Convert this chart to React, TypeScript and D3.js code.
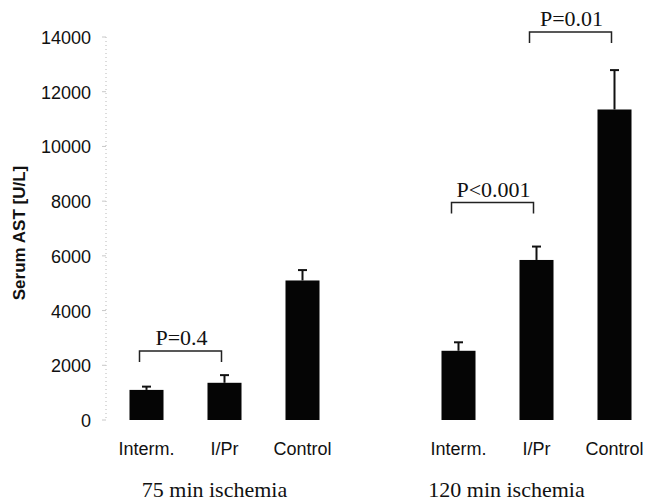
import React, { useRef, useEffect } from "react";
import * as d3 from "d3";

const groups = ["75 min ischemia", "120 min ischemia"];
const conditions = ["Interm.", "I/Pr", "Control"];
// mean values per group, in condition order
const means75 = [1100, 1360, 5100];
const means120 = [2530, 5850, 11350];
const errors75 = [120, 280, 380];
const errors120 = [310, 490, 1440];
const yTicks = [0, 2000, 4000, 6000, 8000, 10000, 12000, 14000];

// significance brackets: group index, from/to condition, level, label
const brackets = [
  { group: 0, from: 0, to: 1, level: 2520, label: "P=0.4" },
  { group: 1, from: 0, to: 1, level: 7950, label: "P<0.001" },
  { group: 1, from: 1, to: 2, level: 14180, label: "P=0.01" },
];

const WIDTH = 648;
const HEIGHT = 502;
const SANS = "'Liberation Sans', Arial, sans-serif";
const SERIF = "'Liberation Serif', 'Times New Roman', serif";

export default function App() {
  const svgRef = useRef<SVGSVGElement>(null);

  useEffect(() => {
    const svg = d3.select(svgRef.current);
    svg.selectAll("*").remove();

    const y = d3.scaleLinear().domain([0, 14000]).range([420, 37]);

    const xGroup = d3
      .scaleBand()
      .domain(groups)
      .range([107.5, 653.5])
      .paddingInner(0.25)
      .paddingOuter(0);

    const xCond = d3
      .scaleBand()
      .domain(conditions)
      .range([0, xGroup.bandwidth()])
      .paddingInner(0.564)
      .paddingOuter(0.282);

    const data = groups.flatMap((g, gi) =>
      conditions.map((c, ci) => ({
        group: g,
        cond: c,
        mean: gi === 0 ? means75[ci] : means120[ci],
        err: gi === 0 ? errors75[ci] : errors120[ci],
      }))
    );

    const cx = (g: string, c: string) =>
      (xGroup(g) ?? 0) + (xCond(c) ?? 0) + xCond.bandwidth() / 2;

    // Y axis (faint dotted line)
    const axis = svg.append("g");
    axis
      .append("line")
      .attr("x1", 106)
      .attr("x2", 106)
      .attr("y1", y(14000))
      .attr("y2", y(0))
      .attr("stroke", "#b8b8b8")
      .attr("stroke-dasharray", "1,3");
    axis
      .selectAll(".tick")
      .data(yTicks)
      .enter()
      .append("line")
      .attr("x1", 102)
      .attr("x2", 106)
      .attr("y1", (d) => y(d))
      .attr("y2", (d) => y(d))
      .attr("stroke", "#c8c8c8");
    axis
      .selectAll(".tlabel")
      .data(yTicks)
      .enter()
      .append("text")
      .attr("x", 91)
      .attr("y", (d) => y(d) + 1)
      .attr("text-anchor", "end")
      .attr("dominant-baseline", "central")
      .attr("font-family", SANS)
      .attr("font-size", 18)
      .attr("fill", "#111")
      .text((d) => d);

    svg
      .append("text")
      .attr("transform", `translate(25,${233}) rotate(-90)`)
      .attr("text-anchor", "middle")
      .attr("font-family", SANS)
      .attr("font-weight", "bold")
      .attr("font-size", 17)
      .attr("fill", "#111")
      .text("Serum AST [U/L]");

    // Bars
    svg
      .selectAll(".bar")
      .data(data)
      .enter()
      .append("rect")
      .attr("x", (d) => (xGroup(d.group) ?? 0) + (xCond(d.cond) ?? 0))
      .attr("width", xCond.bandwidth())
      .attr("y", (d) => y(d.mean))
      .attr("height", (d) => y(0) - y(d.mean))
      .attr("fill", "#050505");

    // Error bars (upper only)
    const eb = svg.selectAll(".err").data(data).enter().append("g");
    eb.append("line")
      .attr("x1", (d) => cx(d.group, d.cond))
      .attr("x2", (d) => cx(d.group, d.cond))
      .attr("y1", (d) => y(d.mean))
      .attr("y2", (d) => y(d.mean + d.err))
      .attr("stroke", "#111")
      .attr("stroke-width", 2);
    eb.append("line")
      .attr("x1", (d) => cx(d.group, d.cond) - 4.5)
      .attr("x2", (d) => cx(d.group, d.cond) + 4.5)
      .attr("y1", (d) => y(d.mean + d.err))
      .attr("y2", (d) => y(d.mean + d.err))
      .attr("stroke", "#111")
      .attr("stroke-width", 2);

    // Condition labels
    svg
      .selectAll(".clabel")
      .data(data)
      .enter()
      .append("text")
      .attr("x", (d) => cx(d.group, d.cond))
      .attr("y", 455)
      .attr("text-anchor", "middle")
      .attr("font-family", SANS)
      .attr("font-size", 18)
      .attr("fill", "#111")
      .text((d) => d.cond);

    // Group labels
    const groupShift = [-10, -30];
    svg
      .selectAll(".glabel")
      .data(groups)
      .enter()
      .append("text")
      .attr("x", (d, i) => (xGroup(d) ?? 0) + xGroup.bandwidth() / 2 + groupShift[i])
      .attr("y", 497)
      .attr("text-anchor", "middle")
      .attr("font-family", SERIF)
      .attr("font-size", 22)
      .attr("fill", "#111")
      .text((d) => d);

    // Significance brackets
    const br = svg.selectAll(".br").data(brackets).enter().append("g");
    br.append("path")
      .attr("d", (d) => {
        const g = groups[d.group];
        const x1 = cx(g, conditions[d.from]) - 7;
        const x2 = cx(g, conditions[d.to]) - 3;
        const yy = y(d.level);
        return `M${x1},${yy + 11}V${yy}H${x2}V${yy + 11}`;
      })
      .attr("fill", "none")
      .attr("stroke", "#222")
      .attr("stroke-width", 1.5);
    br.append("text")
      .attr("x", (d) => {
        const g = groups[d.group];
        return (cx(g, conditions[d.from]) + cx(g, conditions[d.to])) / 2 - 4;
      })
      .attr("y", (d) => y(d.level) - 6)
      .attr("text-anchor", "middle")
      .attr("font-family", SERIF)
      .attr("font-size", 22)
      .attr("fill", "#111")
      .text((d) => d.label);
  }, []);

  return (
    <div style={{ position: "absolute", left: 0, top: 0, background: "#fff" }}>
      <svg ref={svgRef} width={WIDTH} height={HEIGHT} style={{ display: "block" }} />
    </div>
  );
}
